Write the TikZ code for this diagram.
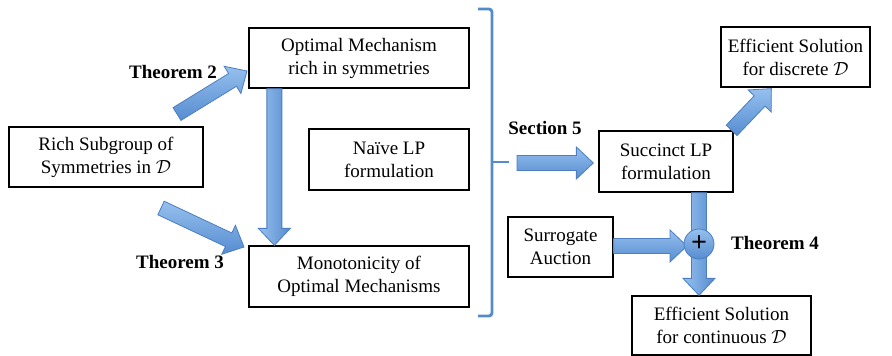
\RequirePackage{fix-cm}
\documentclass[tikz,border=0pt]{standalone}
\usepackage{fontspec}
\setmainfont{LiberationSerif}[Extension=.ttf,UprightFont=*-Regular,BoldFont=*-Bold,ItalicFont=*-Italic,BoldItalicFont=*-BoldItalic]
\usetikzlibrary{calc}

\definecolor{arrowtop}{RGB}{150,192,238}
\definecolor{arrowbot}{RGB}{86,140,208}
\definecolor{arrowedge}{RGB}{76,126,192}
\definecolor{bracecol}{RGB}{84,140,202}

% half shaft width, half head width, head length
\newcommand\shw{7.5pt}
\newcommand\hdw{16pt}
\newcommand\hdl{17pt}
% block arrow from #2 to #3
\newcommand\fatarrow[3][]{%
  \path[fat,#1] ($(#2)!\shw!90:(#3)$)
    -- ($(#3)!\hdl!(#2)!\shw!-90:(#2)$)
    -- ($(#3)!\hdl!(#2)!\hdw!-90:(#2)$)
    -- (#3)
    -- ($(#3)!\hdl!(#2)!\hdw!90:(#2)$)
    -- ($(#3)!\hdl!(#2)!\shw!90:(#2)$)
    -- ($(#2)!\shw!-90:(#3)$) -- cycle;}

\begin{document}
\begin{tikzpicture}[x=1pt,y=-1pt,font=\fontsize{19}{23}\selectfont,
    box/.style={draw,line width=1.3pt,align=center,inner sep=0pt},
    lbl/.style={font=\fontsize{19}{23}\selectfont\bfseries},
    fat/.style={draw=arrowedge,line width=0.8pt,top color=arrowtop,bottom color=arrowbot},
    brace/.style={draw=bracecol,line width=2.8pt,rounded corners=3pt}]
  \useasboundingbox (0,0) rectangle (892,356);

  \node[box,minimum width=194pt,minimum height=60pt] (rich) at (106,157) {Rich Subgroup of\\Symmetries in $\mathcal{D}$};
  \node[box,minimum width=220pt,minimum height=60pt] (optm) at (359,58) {Optimal Mechanism\\rich in symmetries};
  \node[box,minimum width=160pt,minimum height=61pt] (naive) at (389,159.5) {Naïve LP\\formulation};
  \node[box,minimum width=220pt,minimum height=61pt] (mono) at (359,276.5) {Monotonicity of\\Optimal Mechanisms};
  \node[box,minimum width=134pt,minimum height=61pt] (succ) at (666,161.5) {Succinct LP\\formulation};
  \node[box,minimum width=149pt,minimum height=60pt] (disc) at (795.5,57) {Efficient Solution\\for discrete $\mathcal{D}$};
  \node[box,minimum width=105pt,minimum height=60pt] (surr) at (560.5,247) {Surrogate\\Auction};
  \node[box,minimum width=179pt,minimum height=59pt] (cont) at (721.5,325.5) {Efficient Solution\\for continuous $\mathcal{D}$};

  \node[lbl] (th2) at (173,72) {Theorem 2};
  \node[lbl] (th3) at (180,262) {Theorem 3};
  \node[lbl] (sec5) at (545,128) {Section 5};
  \node[lbl] (th4) at (775,243) {Theorem 4};

  % brace round the middle column
  \path[brace] (478,9) -- (492,9) -- (492,316) -- (478,316);
  \path[brace] (492,162) -- (509,162) coordinate (brtip);

  \coordinate (pc) at (699,244);
  \coordinate (t2a) at (177,114);
  \coordinate (t2b) at (247,71);
  \coordinate (t3a) at (161,208);
  \coordinate (t3b) at (244,247);
  \coordinate (ma) at ($(optm.south west)+(26,0)$);
  \coordinate (mb) at ($(mono.north west)+(26,0)$);
  \coordinate (s5a) at ($(brtip)+(8,1)$);
  \coordinate (s5b) at ($(succ.west)+(-5,1.5)$);
  \coordinate (da) at ($(succ.north east)+(-2,0)$);
  \coordinate (db) at ($(disc.south west)+(51,1)$);
  \coordinate (va) at (succ.south -| pc);
  \coordinate (vb) at (cont.north -| pc);
  \coordinate (sa) at ($(surr.east |- pc)+(0,2)$);
  \coordinate (sb) at ($(pc)+(-12,2)$);

  \fatarrow{t2a}{t2b}
  \fatarrow{t3a}{t3b}
  \fatarrow[shading angle=90]{ma}{mb}
  \fatarrow{s5a}{s5b}
  \fatarrow{da}{db}
  \fatarrow[shading angle=90]{va}{vb}
  \fatarrow{sa}{sb}

  \node[circle,draw=arrowedge,line width=0.8pt,minimum size=30pt,inner sep=0pt,
    top color=arrowtop,bottom color=arrowbot] (plus) at (pc) {\fontsize{28}{28}\selectfont\bfseries +};
\end{tikzpicture}
\end{document}
